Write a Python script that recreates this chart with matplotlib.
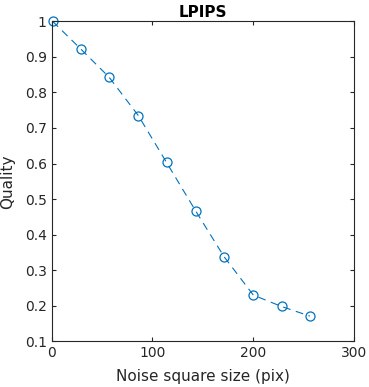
import matplotlib
matplotlib.use("Agg")
import matplotlib.pyplot as plt

# noise square size (pix) and LPIPS quality
sizes = [1, 29, 57, 86, 114, 143, 171, 200, 228, 256]
quality = [1.0, 0.922, 0.843, 0.735, 0.603, 0.466, 0.338, 0.230, 0.198, 0.171]
xticks = [0, 100, 200, 300]
yticks = [0.1, 0.2, 0.3, 0.4, 0.5, 0.6, 0.7, 0.8, 0.9, 1.0]
ytick_labels = ["0.1", "0.2", "0.3", "0.4", "0.5", "0.6", "0.7", "0.8", "0.9", "1"]

fig = plt.figure(figsize=(3.69, 3.87), dpi=100)
ax = fig.add_axes([0.1396, 0.118, 0.8204, 0.827])

ax.plot(sizes, quality, linestyle=(0, (7, 5)), color="#0072BD", linewidth=0.8,
        marker="o", markersize=6.5, markerfacecolor="none", markeredgewidth=0.9,
        clip_on=False)

ax.set_xlim(0, 300)
ax.set_ylim(0.1, 1.0)
ax.set_xticks(xticks)
ax.set_yticks(yticks)
ax.set_yticklabels(ytick_labels)

grey = "#262626"
for s in ax.spines.values():
    s.set_color(grey)
    s.set_linewidth(0.8)
ax.tick_params(direction="in", length=3, width=0.8, colors=grey, labelsize=10,
               top=True, right=True, labeltop=False, labelright=False)

ax.set_xlabel("Noise square size (pix)", fontsize=11, color=grey, labelpad=6)
ax.set_ylabel("Quality", fontsize=11, color=grey, labelpad=6.5)
ax.set_title("LPIPS", fontsize=11, fontweight="bold", color="black", pad=3)

fig.savefig("out.png", dpi=100)
